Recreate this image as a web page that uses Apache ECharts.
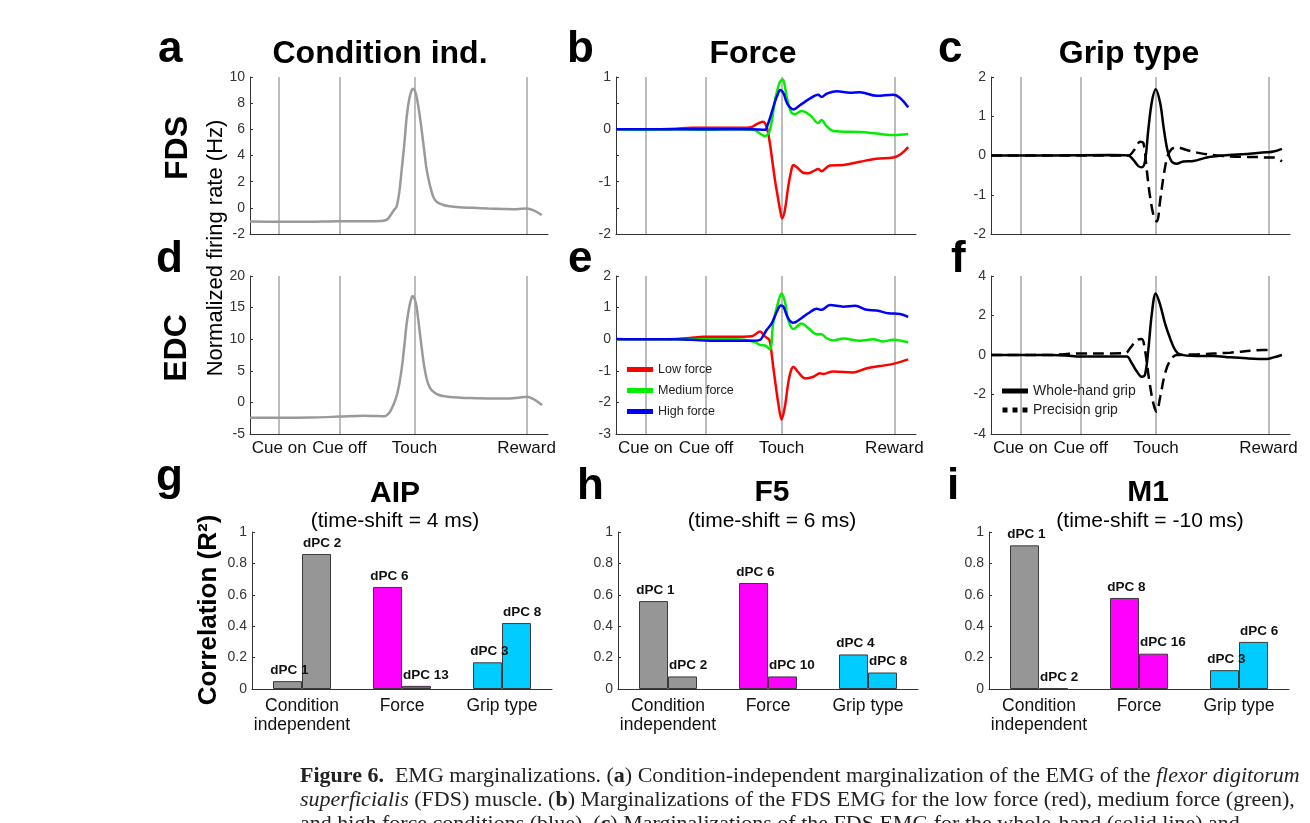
<!DOCTYPE html>
<html>
<head>
<meta charset="utf-8">
<title>EMG marginalizations</title>
<script src="https://cdn.jsdelivr.net/npm/echarts@6/dist/echarts.min.js"></script>
<style>
  html, body { margin: 0; padding: 0; background: #fff; }
  #main { width: 1310px; height: 823px; }
</style>
</head>
<body>
<div id="main"></div>
<script>
// ---------- 数据 ----------
// 事件时刻 (横轴 0-100 的相对时间)
const eventTimes = [9.8, 30, 55.2, 92.8]
const eventNames = ['Cue on', 'Cue off', 'Touch', 'Reward']

// a: FDS condition independent
const fdsCond = [[0,-1.05],[10,-1.07],[20,-1.06],[30,-1.02],[40,-1.02],[44,-1.0],[45.5,-0.95],[46.4,-0.8],[47.5,-0.45],[48.4,-0.15],[49.2,0.1],[50.1,1.2],[50.9,2.9],[51.8,4.9],[52.6,7.0],[53.5,8.4],[54.3,9.0],[54.8,9.1],[55.4,8.9],[55.9,8.5],[56.8,7.3],[57.6,5.95],[58.5,4.3],[59.3,2.9],[60.4,1.7],[61.5,0.85],[62.6,0.47],[64.9,0.22],[67,0.12],[70,0.05],[75,0.0],[80,-0.05],[85,-0.08],[89.5,-0.1],[92.8,-0.05],[95,-0.18],[97.9,-0.55]]
// d: EDC condition independent
const edcCond = [[0,-2.42],[10,-2.43],[20,-2.4],[30,-2.25],[38,-2.1],[43,-2.15],[45.3,-2.2],[46.2,-1.9],[47,-1.47],[48.2,-0.3],[49.3,1.17],[50.2,3.2],[51,5.65],[51.8,9.0],[52.6,12.56],[53.5,15.2],[54.3,16.7],[54.7,16.8],[55.3,16.3],[55.9,15.1],[56.8,11.8],[57.7,8.3],[58.5,5.6],[59.4,3.5],[60.4,2.3],[61.5,1.7],[63,1.25],[64.8,1.0],[68,0.8],[72.8,0.7],[80,0.62],[86,0.62],[90,0.75],[92.9,0.9],[95,0.55],[98,-0.4]]

// b: FDS force
const fdsLow = [[0,0],[10,0],[20,0.01],[25,0.03],[35,0.03],[42,0.03],[45,0.04],[46.9,0.1],[48.9,0.146],[50.2,0.05],[51.3,-0.27],[52.1,-0.6],[53,-0.97],[53.9,-1.28],[54.7,-1.54],[55.4,-1.7],[56.3,-1.54],[57.4,-1.1],[58.3,-0.82],[59.1,-0.68],[60.2,-0.72],[62.4,-0.83],[64,-0.84],[65.8,-0.8],[67.4,-0.76],[68.5,-0.8],[71.3,-0.69],[75.8,-0.68],[81.3,-0.62],[86.9,-0.56],[92.4,-0.54],[95,-0.47],[97.4,-0.34]]
const fdsMed = [[0,0],[10,-0.01],[20,0],[30,-0.01],[40,0],[46,-0.01],[48,-0.08],[49.7,-0.13],[50.5,-0.1],[51.3,-0.02],[52.2,0.25],[53,0.56],[54,0.8],[54.7,0.91],[55.6,0.95],[56.3,0.82],[56.9,0.62],[57.8,0.42],[58.6,0.31],[59.7,0.29],[61.9,0.35],[64.7,0.27],[67.4,0.12],[68.5,0.18],[70.2,0.06],[72.4,-0.03],[81.3,-0.05],[86.9,-0.08],[92.4,-0.11],[97.4,-0.09]]
const fdsHigh = [[0,0],[10,0],[20,0],[30,0],[40,0],[45,0],[49.7,-0.01],[50.5,0.08],[51.3,0.21],[52.2,0.38],[53,0.53],[54,0.68],[54.7,0.75],[55.8,0.69],[56.6,0.56],[57.4,0.46],[59.1,0.38],[61.3,0.46],[64.7,0.59],[67.4,0.66],[68.5,0.62],[70.2,0.68],[73.6,0.73],[78,0.7],[81.3,0.71],[86.9,0.64],[92.4,0.66],[94.7,0.6],[97.4,0.42]]
// e: EDC force
const edcLow = [[0,0],[15,0],[20.2,0.01],[25.8,0.05],[29.1,0.08],[36.9,0.08],[42.4,0.08],[45.2,0.09],[48,0.24],[49.7,0.08],[51.1,-0.02],[51.8,-0.4],[52.4,-0.87],[53.3,-1.5],[54.1,-2.03],[55.2,-2.54],[56.3,-2.13],[57.4,-1.39],[58.3,-1.0],[59.1,-0.88],[60.8,-1.05],[63,-1.24],[65.8,-1.19],[68,-1.08],[69.1,-1.1],[72.4,-1.02],[79.1,-1.05],[83.6,-0.92],[88,-0.85],[92.4,-0.78],[97.4,-0.64]]
const edcMed = [[0,0],[20,0],[40,0],[45.8,-0.07],[48,-0.18],[49.7,-0.2],[51.3,-0.32],[52.4,0.5],[54.1,1.19],[55.2,1.45],[56.3,1.19],[57.4,0.61],[59.1,0.32],[61.9,0.5],[64.1,0.35],[66.9,0.16],[68.5,0.16],[70.2,0.03],[72.4,-0.04],[75.8,0.02],[81.3,-0.05],[85.8,0],[89.1,-0.07],[92.4,-0.02],[97.4,-0.1]]
const edcHigh = [[0,0.01],[10,0],[20,0],[28,-0.03],[35,-0.05],[45,-0.05],[48,-0.02],[49,0.1],[50.2,0.29],[51.9,0.5],[53.6,0.87],[54.9,1.07],[55.8,1.03],[57.4,0.66],[59.1,0.52],[61.3,0.63],[64.1,0.82],[66.9,0.96],[68.5,0.93],[71.3,1.08],[75.8,1.03],[79.7,1.06],[83.6,0.93],[86.9,0.91],[90.8,0.82],[94.7,0.8],[97.4,0.71]]

// c: FDS grip type
const fdsWhole = [[0,0],[20,0],[40,0.01],[45.9,0],[47.6,-0.11],[49.3,-0.27],[50.4,-0.3],[51.5,-0.15],[52.6,0.65],[53.8,1.37],[55.1,1.69],[56.6,1.33],[57.7,0.73],[59,0.14],[60.4,-0.15],[62.1,-0.21],[64.3,-0.15],[67.7,-0.14],[72.2,-0.05],[77.7,0],[85.5,0.04],[92.2,0.08],[94.5,0.1],[97.3,0.17]]
const fdsPrec = [[0,0],[20,0],[40,0],[46,0],[47.9,0.14],[49.9,0.35],[51,0.31],[52.1,-0.37],[53.2,-1.05],[54.6,-1.6],[55.5,-1.68],[56.6,-1.13],[57.7,-0.54],[59,-0.03],[60.4,0.16],[62.1,0.21],[65.4,0.14],[69.9,0.06],[75.5,0],[82.2,-0.03],[88.9,-0.04],[92.2,-0.05],[94.5,-0.05],[97.3,-0.15]]
// f: EDC grip type
const edcWhole = [[0,0],[20,0],[25,-0.03],[30,-0.08],[40,-0.08],[45.4,-0.08],[47.1,-0.42],[48.8,-0.84],[50.4,-1.1],[51.5,-1.0],[52.6,0.25],[53.8,2.11],[55.1,3.12],[56.6,2.53],[58.2,1.6],[59.9,0.84],[61.6,0.25],[63.2,0.03],[68.8,-0.05],[74.4,-0.05],[80,-0.12],[85.5,-0.17],[92.2,-0.2],[94.5,-0.12],[97.3,0]]
const edcPrec = [[0,0],[20,0],[25,0.05],[30,0.08],[40,0.08],[45,0.1],[46.5,0.34],[48.8,0.76],[50.4,0.81],[51.5,0.25],[52.9,-1.27],[54.3,-2.45],[55.4,-2.87],[56.6,-2.11],[58.2,-0.93],[59.9,-0.29],[62.1,0],[68.8,0.03],[80,0.12],[91.1,0.25],[93.4,0.25]]

// g-i: 相关系数柱状图
const barCategories = ['Condition\nindependent', 'Force', 'Grip type']
const aipFirst = [0.05, 0.65, 0.17]
const aipSecond = [0.86, 0.02, 0.42]
const aipFirstNames = ['dPC 1', 'dPC 6', 'dPC 3']
const aipSecondNames = ['dPC 2', 'dPC 13', 'dPC 8']
const f5First = [0.56, 0.675, 0.22]
const f5Second = [0.08, 0.08, 0.105]
const f5FirstNames = ['dPC 1', 'dPC 6', 'dPC 4']
const f5SecondNames = ['dPC 2', 'dPC 10', 'dPC 8']
const m1First = [0.915, 0.58, 0.12]
const m1Second = [0.005, 0.225, 0.30]
const m1FirstNames = ['dPC 1', 'dPC 8', 'dPC 3']
const m1SecondNames = ['dPC 2', 'dPC 16', 'dPC 6']

// ---------- 样式 ----------
const fontSans = '"Liberation Sans", Arial, Helvetica, sans-serif'
const fontSerif = '"Liberation Serif", "Times New Roman", serif'
const axisColor = '#333'
const groupColors = ['#969696', '#ff00ff', '#00ccff']

// 九个面板的位置
const grids = [
  { left: 250, top: 77, width: 298, height: 157 },   // a
  { left: 616, top: 77, width: 300, height: 157 },   // b
  { left: 991, top: 77, width: 299, height: 157 },   // c
  { left: 250, top: 276, width: 298, height: 158 },  // d
  { left: 616, top: 276, width: 300, height: 158 },  // e
  { left: 991, top: 276, width: 299, height: 158 },  // f
  { left: 252, top: 532, width: 300, height: 157 },  // g
  { left: 618, top: 532, width: 300, height: 157 },  // h
  { left: 989, top: 532, width: 300, height: 157 }   // i
].map(g => Object.assign({ outerBoundsMode: 'none', containLabel: false }, g))

// 折线面板的纵轴范围
const lineYRanges = [
  { min: -2, max: 10, interval: 2 },
  { min: -2, max: 1, interval: 0.5 },
  { min: -2, max: 2, interval: 1 },
  { min: -5, max: 20, interval: 5 },
  { min: -3, max: 2, interval: 1 },
  { min: -4, max: 4, interval: 2 }
]

const xAxes = []
const yAxes = []
for (let i = 0; i < 6; i++) {
  const bottomRow = i >= 3
  xAxes.push({
    type: 'value', gridIndex: i, min: 0, max: 100,
    axisLine: { show: true, onZero: false, lineStyle: { color: axisColor, width: 1 } },
    axisTick: { show: false },
    splitLine: { show: false },
    axisLabel: bottomRow ? {
      show: true,
      customValues: eventTimes,
      // 找最近的事件名
      formatter: v => {
        let k = 0
        eventTimes.forEach((t, j) => { if (Math.abs(t - v) < Math.abs(eventTimes[k] - v)) k = j })
        return eventNames[k]
      },
      fontFamily: fontSans, fontSize: 17, color: '#111', margin: 6
    } : { show: false }
  })
  const r = lineYRanges[i]
  yAxes.push({
    type: 'value', gridIndex: i, min: r.min, max: r.max, interval: r.interval,
    axisLine: { show: true, onZero: false, lineStyle: { color: axisColor, width: 1 } },
    axisTick: { show: true, inside: true, length: 3, lineStyle: { color: axisColor } },
    splitLine: { show: false },
    axisLabel: {
      fontFamily: fontSans, fontSize: 14, color: '#333', margin: 5,
      formatter: v => (i === 1 && v % 1 !== 0) ? '' : String(v)
    }
  })
}
for (let i = 6; i < 9; i++) {
  xAxes.push({
    type: 'category', gridIndex: i, data: barCategories,
    axisLine: { show: true, onZero: false, lineStyle: { color: axisColor, width: 1 } },
    axisTick: { show: false },
    axisLabel: { fontFamily: fontSans, fontSize: 17.5, lineHeight: 19.5, color: '#111', margin: 7, interval: 0 }
  })
  yAxes.push({
    type: 'value', gridIndex: i, min: 0, max: 1, interval: 0.2,
    axisLine: { show: true, onZero: false, lineStyle: { color: axisColor, width: 1 } },
    axisTick: { show: true, inside: true, length: 3, lineStyle: { color: axisColor } },
    splitLine: { show: false },
    axisLabel: { fontFamily: fontSans, fontSize: 14, color: '#333', margin: 5 }
  })
}

// 竖直的事件线
const eventMarkLine = {
  silent: true, symbol: 'none', z: 1, animation: false,
  label: { show: false },
  lineStyle: { color: '#a6a6a6', width: 1.5, type: 'solid' },
  data: eventTimes.map(t => ({ xAxis: t }))
}

function lineSeries(name, data, idx, color, dashed, withEvents) {
  const s = {
    name: name, type: 'line', xAxisIndex: idx, yAxisIndex: idx, data: data,
    symbol: 'none', showSymbol: false, smooth: 0.35, silent: true, z: 3,
    itemStyle: { color: color },
    lineStyle: { color: color, width: 2.5, type: dashed ? [11, 6] : 'solid' }
  }
  if (withEvents) s.markLine = eventMarkLine
  return s
}

function barSeries(idx, values, names, second) {
  return {
    type: 'bar', xAxisIndex: idx, yAxisIndex: idx,
    barWidth: 29, barGap: '0%', silent: true,
    data: values.map((v, j) => ({ value: v, itemStyle: { color: groupColors[j] } })),
    itemStyle: { borderColor: '#3a3a3a', borderWidth: 1 },
    label: second ? {
      show: true, position: [1, -4], align: 'left', verticalAlign: 'bottom',
      fontFamily: fontSans, fontSize: 13.5, fontWeight: 'bold', color: '#111',
      formatter: p => names[p.dataIndex]
    } : {
      show: true, position: 'top', distance: 4, offset: [2, 0],
      fontFamily: fontSans, fontSize: 13.5, fontWeight: 'bold', color: '#111',
      formatter: p => names[p.dataIndex]
    }
  }
}

const series = [
  lineSeries('cond', fdsCond, 0, '#9a9a9a', false, true),
  lineSeries('Low force', fdsLow, 1, '#ff0000', false, true),
  lineSeries('Medium force', fdsMed, 1, '#00ee00', false, false),
  lineSeries('High force', fdsHigh, 1, '#0000ff', false, false),
  lineSeries('Precision grip', fdsPrec, 2, '#000000', true, true),
  lineSeries('Whole-hand grip', fdsWhole, 2, '#000000', false, false),
  lineSeries('cond', edcCond, 3, '#9a9a9a', false, true),
  lineSeries('Low force', edcLow, 4, '#ff0000', false, true),
  lineSeries('Medium force', edcMed, 4, '#00ee00', false, false),
  lineSeries('High force', edcHigh, 4, '#0000ff', false, false),
  lineSeries('Precision grip', edcPrec, 5, '#000000', true, true),
  lineSeries('Whole-hand grip', edcWhole, 5, '#000000', false, false),
  barSeries(6, aipFirst, aipFirstNames, false),
  barSeries(6, aipSecond, aipSecondNames, true),
  barSeries(7, f5First, f5FirstNames, false),
  barSeries(7, f5Second, f5SecondNames, true),
  barSeries(8, m1First, m1FirstNames, false),
  barSeries(8, m1Second, m1SecondNames, true)
]

// ---------- 文字 ----------
// baseline -> 'middle' 对齐时的 y
function textAt(x, baseline, text, size, weight, align) {
  return {
    type: 'text', x: x, y: baseline - 0.35 * size, silent: true,
    style: {
      text: text, fill: '#000', align: align || 'center', verticalAlign: 'middle',
      font: (weight || 'normal') + ' ' + size + 'px ' + fontSans
    }
  }
}
function rotatedText(cx, cy, text, size, weight) {
  return {
    type: 'text', x: cx, y: cy, rotation: Math.PI / 2, silent: true,
    style: {
      text: text, fill: '#000', align: 'center', verticalAlign: 'middle',
      font: (weight || 'normal') + ' ' + size + 'px ' + fontSans
    }
  }
}
function captionLine(baseline, text) {
  return {
    type: 'text', x: 300, y: baseline - 7.5, silent: true,
    style: {
      text: text, fill: '#222', align: 'left', verticalAlign: 'middle',
      font: 'normal 22px ' + fontSerif,
      rich: {
        b: { fontFamily: fontSerif, fontSize: 22, fontWeight: 'bold', fill: '#222' },
        i: { fontFamily: fontSerif, fontSize: 22, fontStyle: 'italic', fill: '#222' }
      }
    }
  }
}

const graphics = [
  // 面板字母
  textAt(158, 65, 'a', 44, 'bold', 'left'),
  textAt(567, 65, 'b', 44, 'bold', 'left'),
  textAt(938, 65, 'c', 44, 'bold', 'left'),
  textAt(156, 275, 'd', 44, 'bold', 'left'),
  textAt(568, 275, 'e', 44, 'bold', 'left'),
  textAt(951, 275, 'f', 44, 'bold', 'left'),
  textAt(156, 493, 'g', 44, 'bold', 'left'),
  textAt(577, 502, 'h', 44, 'bold', 'left'),
  textAt(947, 502, 'i', 44, 'bold', 'left'),
  // 标题
  textAt(380, 65, 'Condition ind.', 32, 'bold'),
  textAt(753, 65, 'Force', 32, 'bold'),
  textAt(1129, 65, 'Grip type', 32, 'bold'),
  textAt(395, 504, 'AIP', 30, 'bold'),
  textAt(772, 503, 'F5', 30, 'bold'),
  textAt(1148, 503, 'M1', 30, 'bold'),
  textAt(395, 529, '(time-shift = 4 ms)', 21),
  textAt(772, 529, '(time-shift = 6 ms)', 21),
  textAt(1150, 529, '(time-shift = -10 ms)', 21),
  // 行标签和纵轴标题
  rotatedText(178, 148, 'FDS', 32, 'bold'),
  rotatedText(177, 348, 'EDC', 32, 'bold'),
  rotatedText(216, 248, 'Normalized firing rate (Hz)', 22),
  rotatedText(209, 610, 'Correlation (R²)', 26, 'bold'),
  // 图注
  captionLine(784, '{b|Figure 6.}  EMG marginalizations. ({b|a}) Condition-independent marginalization of the EMG of the {i|flexor digitorum}'),
  captionLine(808, '{i|superficialis} (FDS) muscle. ({b|b}) Marginalizations of the FDS EMG for the low force (red), medium force (green),'),
  captionLine(832, 'and high force conditions (blue). ({b|c}) Marginalizations of the FDS EMG for the whole-hand (solid line) and')
]

const chartInstance = echarts.init(document.getElementById('main'), null, { renderer: 'canvas' })
chartInstance.setOption({
  backgroundColor: '#fff',
  animation: false,
  grid: grids,
  xAxis: xAxes,
  yAxis: yAxes,
  legend: [
    {
      data: ['Low force', 'Medium force', 'High force'],
      orient: 'vertical', left: 627, top: 363, padding: 0,
      icon: 'rect', itemWidth: 26, itemHeight: 5, itemGap: 8,
      selectedMode: false,
      textStyle: { fontFamily: fontSans, fontSize: 12.5, color: '#222' }
    },
    {
      data: [
        { name: 'Whole-hand grip', icon: 'rect' },
        { name: 'Precision grip', icon: 'path://M0,0h5v5h-5z M10,0h5v5h-5z M20,0h5v5h-5z' }
      ],
      orient: 'vertical', left: 1002, top: 384, padding: 0,
      itemWidth: 26, itemHeight: 5, itemGap: 5,
      selectedMode: false,
      textStyle: { fontFamily: fontSans, fontSize: 14, color: '#222' }
    }
  ],
  series: series,
  graphic: graphics
})
</script>
</body>
</html>
